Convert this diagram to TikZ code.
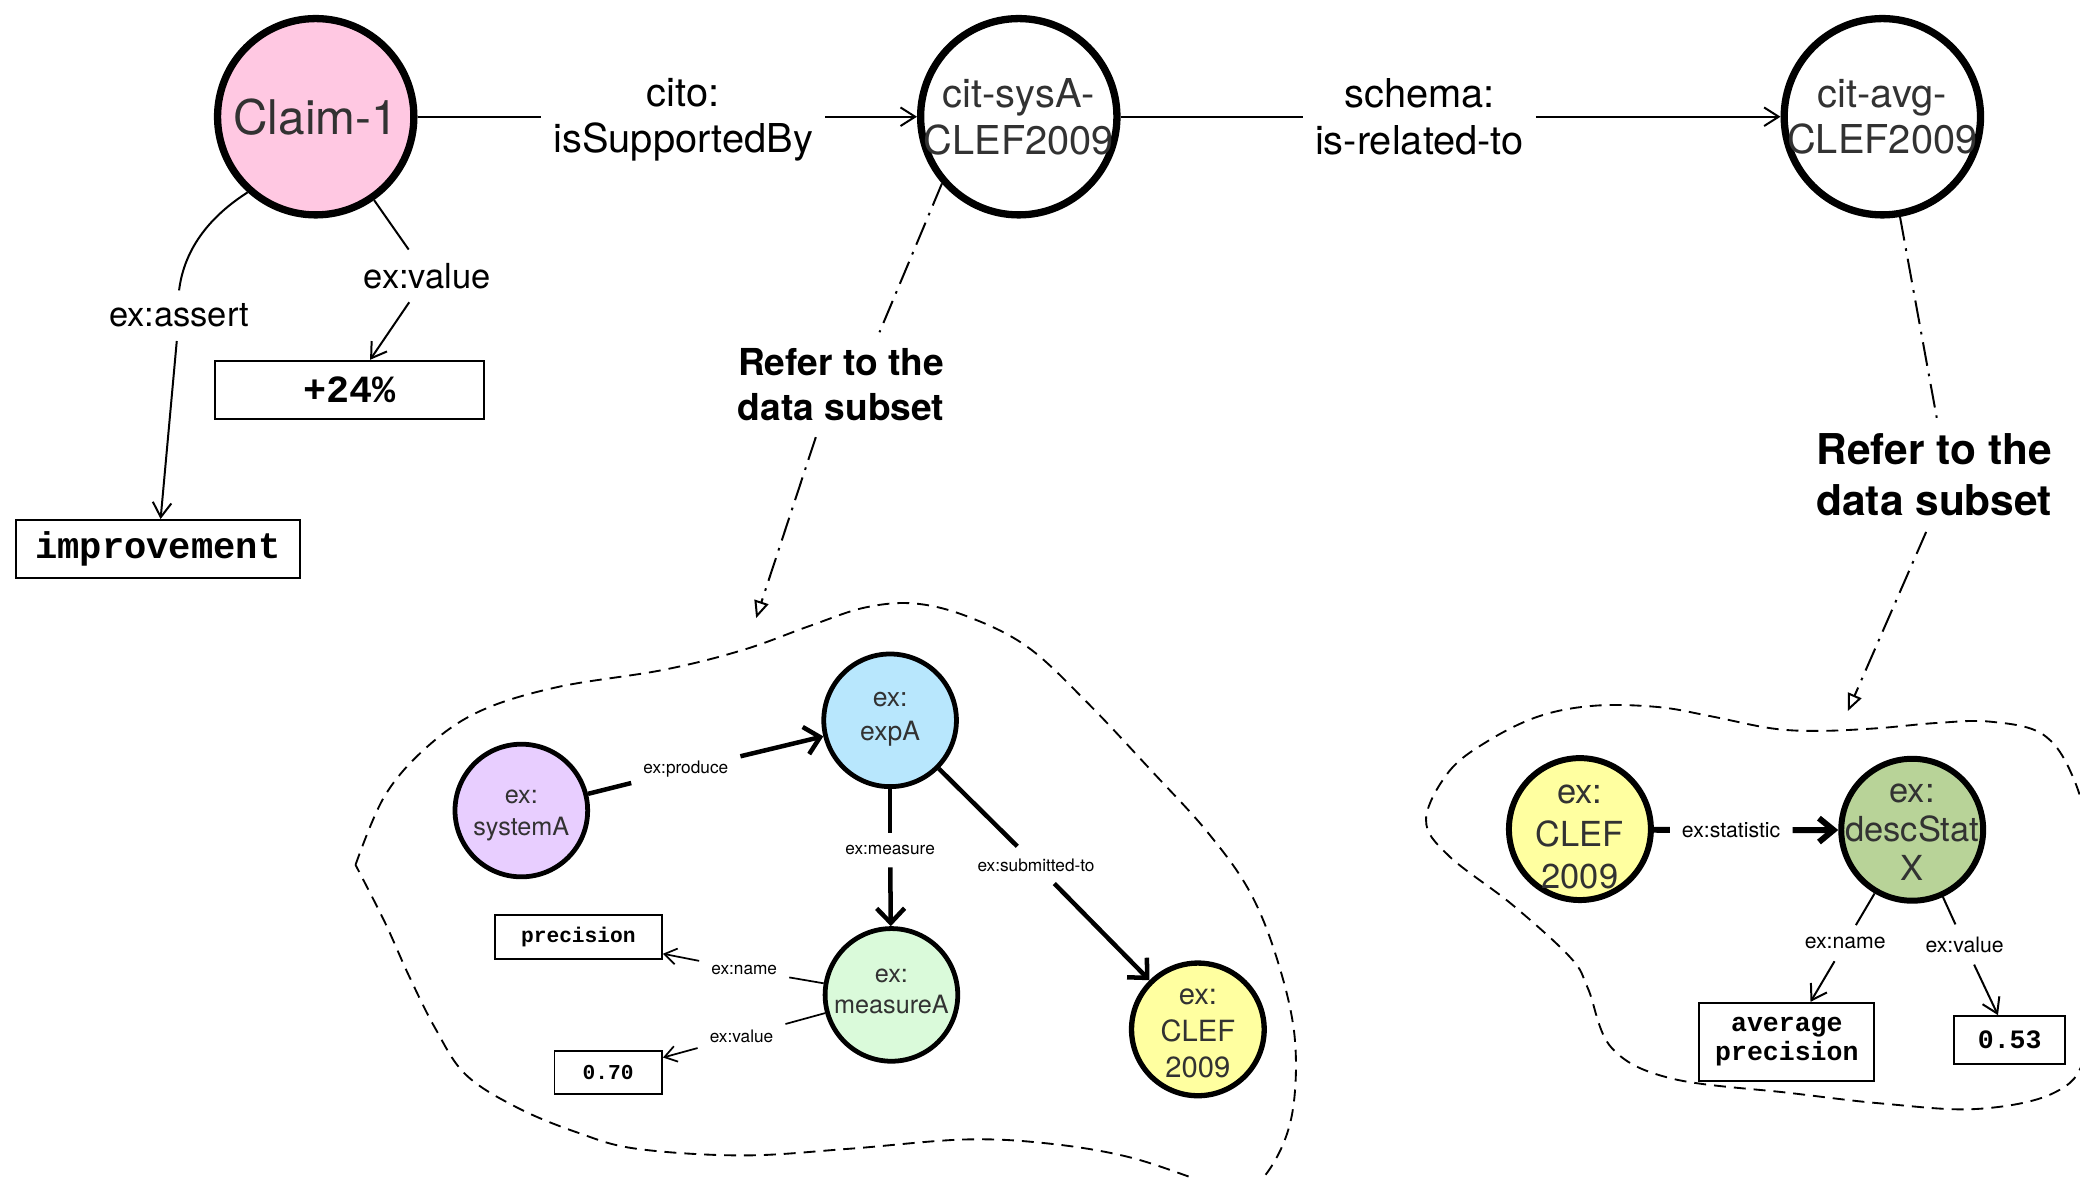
\documentclass[tikz,border=0pt]{standalone}
\usepackage{fontspec}
\setmainfont{TeX Gyre Heros}
\setmonofont{Liberation Mono}
\usetikzlibrary{arrows.meta,calc}

\definecolor{claimpink}{RGB}{255,200,226}
\definecolor{syslilac}{RGB}{232,206,255}
\definecolor{expblue}{RGB}{184,231,253}
\definecolor{measgreen}{RGB}{218,250,218}
\definecolor{clefyellow}{RGB}{255,252,120}
\definecolor{clefpale}{RGB}{255,255,160}
\definecolor{statgreen}{RGB}{184,211,152}
\definecolor{inkgray}{RGB}{50,50,50}

% soft pale centre for the CLEF 2009 discs
\pgfdeclareradialshading{clefglow}{\pgfpoint{0bp}{0bp}}{%
  color(0bp)=(clefpale); color(36bp)=(clefpale); color(50bp)=(clefyellow)}

\newcommand\setfs[2]{\fontsize{#1}{#2}\selectfont}

\begin{document}
\begin{tikzpicture}[x=1pt,y=-1pt,
  bigring/.style={circle,draw,line width=5.5pt,minimum size=148pt,inner sep=0pt},
  midring/.style={circle,draw,line width=4.5pt,minimum size=107pt,inner sep=0pt},
  smallring/.style={circle,draw,line width=3.6pt,minimum size=100pt,inner sep=0pt},
  ringtxt/.style={align=center,text=inkgray,inner sep=0pt},
  lbl/.style={fill=white,align=center,inner sep=9pt},
  litbox/.style={draw,line width=1.5pt,inner sep=0pt,align=center},
  link/.style={line width=1.5pt},
  thinarr/.style={link,-{Straight Barb[length=11pt,width=14pt]}},
  fineline/.style={line width=1.3pt},
  finearr/.style={fineline,-{Straight Barb[length=9pt,width=12pt]}},
  boldline/.style={line width=3.4pt},
  boldarr/.style={boldline,-{Straight Barb[length=11pt,width=21pt]}},
  statline/.style={line width=4.5pt},
  statarr/.style={statline,-{Straight Barb[length=11pt,width=18pt]}},
  refline/.style={line width=1.5pt,dash pattern=on 18pt off 6pt on 2pt off 6pt},
  reftip/.style={-{Triangle[open,length=13pt,width=11pt,line width=1.5pt]}},
  blob/.style={line width=1.4pt,dash pattern=on 9pt off 6pt}
]
\useasboundingbox (0,0) rectangle (1568,888);
\fill[white] (0,0) rectangle (1568,888);

% dashed outlines of the two data subsets
\begin{scope}
  \clip (0,0) rectangle (1568,888);
  \draw[blob] plot[smooth,tension=0.6] coordinates {
    (268,652) (290,600) (322,563) (362,536) (420,518) (500,505) (560,490)
    (610,472) (652,458) (690,455) (730,465) (775,488) (820,530) (868,581)
    (910,627) (942,672) (963,724) (976,782) (974,840) (958,880) (935,900)
    (905,890) (850,872) (790,862) (727,859) (640,866) (560,871) (480,866)
    (436,854) (390,835) (351,810) (328,775) (308,735) (290,695) (268,652)};
  \draw[blob] plot[smooth cycle,tension=0.6] coordinates {
    (1075,618) (1092,582) (1121,559) (1160,540) (1202,532) (1250,533)
    (1290,540) (1335,549) (1370,551) (1415,549) (1460,545) (1500,544)
    (1539,553) (1561,582) (1574,630) (1578,720) (1572,795) (1548,824)
    (1490,836) (1420,832) (1350,824) (1260,813) (1215,790) (1197,745)
    (1184,722) (1140,682) (1092,645)};
\end{scope}

% top row
\node[bigring,fill=claimpink] (claim) at (238,88) {};
\node[ringtxt,font=\setfs{36}{40}] (claimT) at (238,88) {Claim-1};
\node[bigring] (sysA) at (768,88) {};
\node[ringtxt,font=\setfs{30}{35}] (sysAT) at (768,88) {cit-sysA-\\CLEF2009};
\node[bigring] (avg) at (1419,88) {};
\node[ringtxt,font=\setfs{30}{35}] (avgT) at (1419,88) {cit-avg-\\CLEF2009};

\node[lbl,font=\setfs{30}{35}] (cito) at (515,90.5) {cito:\\isSupportedBy};
\node[lbl,font=\setfs{30}{35}] (schemaL) at (1070,88) {schema:\\is-related-to};

\draw[link] (claim) -- (claim -| cito.west);
\draw[thinarr] (sysA -| cito.east) -- (sysA);
\draw[link] (sysA) -- (schemaL);
\draw[thinarr] (schemaL) -- (avg);

% properties of the claim
\node[lbl,inner sep=10pt,font=\setfs{26}{30}] (assertL) at (135,238) {ex:assert};
\node[lbl,inner sep=10pt,font=\setfs{26}{30}] (valueL) at (322,208) {ex:value};
\node[litbox,minimum width=214pt,minimum height=44pt,
      font=\ttfamily\bfseries\setfs{28}{30}] (impr) at (119,414) {improvement};
\node[litbox,minimum width=203pt,minimum height=44pt,
      font=\ttfamily\bfseries\setfs{29}{30}] (pct) at (263.5,294) {+24\%};

\draw[link] (claim.228) .. controls (160,162) and (139,186) .. (assertL.north);
\draw[thinarr] (assertL) -- (impr);
\draw[link] (claim) -- (valueL);
\draw[thinarr] (valueL) -- (pct);

% references to the data subsets
\node[lbl,inner sep=12pt,font=\bfseries\setfs{28}{34}] (refL) at (634,290) {Refer to the\\data subset};
\node[lbl,inner sep=12pt,font=\bfseries\setfs{32}{38}] (refR) at (1458,358) {Refer to the\\data subset};
\coordinate (tipL) at (570,466);
\coordinate (tipR) at (1393,536);
\draw[refline] (sysA.221) -- ($(refL.north)+(29,0)$);
\draw[refline,reftip] ($(refL.south)+(-19,0)$) -- (tipL);
\draw[refline] (avg.280) -- ($(refR.north)+(2,0)$);
\draw[refline,reftip] ($(refR.south)+(-6,0)$) -- (tipR);

% left subset: system, experiment, measure, campaign
\node[smallring,fill=syslilac] (sysNode) at (393,611) {};
\node[ringtxt,font=\setfs{19}{24}] (sysNodeT) at (393,615) {ex:\\systemA};
\node[smallring,fill=expblue] (expNode) at (671,543) {};
\node[ringtxt,font=\setfs{20}{26}] (expNodeT) at (671,542) {ex:\\expA};
\node[smallring,fill=measgreen] (measNode) at (672,750) {};
\node[ringtxt,font=\setfs{19}{23}] (measNodeT) at (672,747.5) {ex:\\measureA};
\node[smallring,line width=4pt,shading=clefglow] (clefL) at (903,776) {};
\node[ringtxt,font=\setfs{22}{27.5}] (clefLT) at (903,779) {ex:\\CLEF\\2009};

\node[lbl,font=\setfs{13}{15}] (produceL) at (517,580) {ex:produce};
\node[lbl,font=\setfs{13}{15}] (measL) at (671,641) {ex:measure};
\node[lbl,font=\setfs{13}{15}] (subL) at (781,652) {ex:submitted-to};
\node[lbl,font=\setfs{13}{15}] (nameL) at (561,731) {ex:name};
\node[lbl,font=\setfs{13}{15}] (valL) at (559,781) {ex:value};

\node[litbox,minimum width=126pt,minimum height=33pt,
      font=\ttfamily\bfseries\setfs{16}{18}] (precBox) at (436,706.5) {precision};
\node[litbox,minimum width=81pt,minimum height=33pt,
      font=\ttfamily\bfseries\setfs{16}{18}] (box070) at (458.5,808.5) {0.70};

\draw[boldline] (sysNode) -- (produceL);
\draw[boldarr] (produceL) -- (expNode);
\draw[boldline] (expNode) -- (measL);
\draw[boldarr] (measL) -- (measNode);
\draw[boldline] (expNode) -- (subL);
\draw[boldarr] (subL) -- (clefL);
\draw[fineline] (measNode) -- (nameL);
\draw[finearr] (nameL) -- (precBox);
\draw[fineline] (measNode) -- (valL);
\draw[finearr] (valL) -- (box070);

% right subset: campaign and its descriptive statistic
\node[midring,shading=clefglow] (clefR) at (1191,625) {};
\node[ringtxt,font=\setfs{26}{32}] (clefRT) at (1191,631) {ex:\\CLEF\\2009};
\node[midring,fill=statgreen] (descR) at (1441.5,625.5) {};
\node[ringtxt,font=\setfs{26}{29.5}] (descRT) at (1441.5,627.5) {ex:\\descStat\\X};

\node[lbl,font=\setfs{16}{18}] (statL) at (1305,626) {ex:statistic};
\node[lbl,font=\setfs{16}{18}] (nameR) at (1391,711) {ex:name};
\node[lbl,font=\setfs{16}{18}] (valR) at (1481,712) {ex:value};

\node[litbox,minimum width=132pt,minimum height=59pt,
      font=\ttfamily\bfseries\setfs{20}{22}] (avgPrec) at (1347,785.5) {average\\precision};
\node[litbox,minimum width=84pt,minimum height=36pt,
      font=\ttfamily\bfseries\setfs{20}{22}] (box053) at (1515,784) {0.53};

\draw[statline] (clefR) -- (statL);
\draw[statarr] (statL) -- (descR);
\draw[link] (descR) -- (nameR);
\draw[thinarr] (nameR) -- (avgPrec);
\draw[link] (descR) -- (valR);
\draw[thinarr] (valR) -- (box053);
\end{tikzpicture}
\end{document}
